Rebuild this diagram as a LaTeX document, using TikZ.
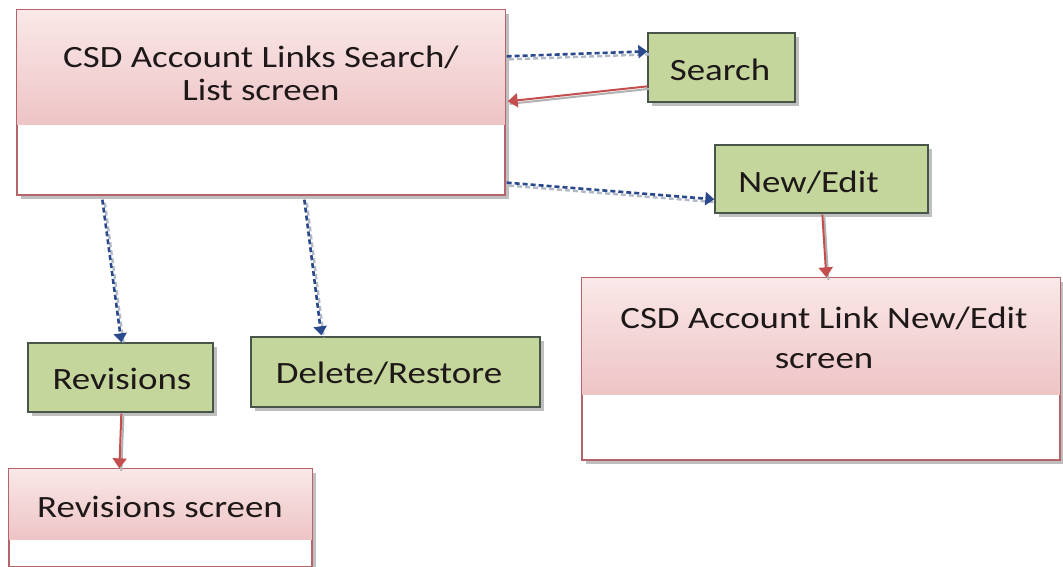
\documentclass[tikz,border=0pt]{standalone}
\usepackage{fontspec}
\setmainfont{Carlito}
\usetikzlibrary{arrows.meta,shadows,calc}
\definecolor{pinktop}{RGB}{250,232,232}
\definecolor{pinkbot}{RGB}{238,196,198}
\definecolor{scrline}{RGB}{180,100,106}
\definecolor{actfill}{RGB}{196,214,156}
\definecolor{actline}{RGB}{72,86,74}
\definecolor{navblue}{RGB}{42,72,140}
\definecolor{navshadow}{RGB}{178,186,200}
\definecolor{retred}{RGB}{196,78,78}
\definecolor{txt}{RGB}{30,24,24}
\newcommand{\wtext}[1]{\scalebox{1.19}[1]{#1}}
\begin{document}
\begin{tikzpicture}[x=1pt,y=-1pt,
  boxshadow/.style={drop shadow={shadow xshift=4pt,shadow yshift=-4pt,fill=black!45,opacity=0.55}},
  screenbox/.style={draw=scrline,line width=1.3pt,fill=white,inner sep=0pt,boxshadow},
  actbox/.style={draw=actline,line width=1.3pt,fill=actfill,inner sep=0pt,boxshadow},
  lbl/.style={inner sep=0pt,text=txt,font=\fontsize{31}{33}\selectfont},
  nav/.style={draw=navblue,line width=2.6pt,dash pattern=on 5pt off 3pt,
    -{Triangle[length=9pt,width=13pt]},
    preaction={draw=navshadow,line width=2.4pt,dash pattern=on 5pt off 3pt,-,
      transform canvas={xshift=2.5pt,yshift=-3pt}}},
  ret/.style={draw=retred,line width=2pt,-{Triangle[length=10pt,width=14pt]},
    preaction={draw=black!30,line width=2pt,-,
      transform canvas={xshift=2pt,yshift=-2.5pt}}}
]
\useasboundingbox (0,0) rectangle (1063,567);
\fill[white] (0,0) rectangle (1063,567);

% screen boxes
\node[screenbox,minimum width=488pt,minimum height=185pt] (main) at (261,102.5) {};
\shade[top color=pinktop,bottom color=pinkbot] (main.north west) rectangle ($(main.north east)+(0,115)$);
\draw[scrline,line width=1.3pt] (main.north west) rectangle (main.south east);
\node[lbl] (maint) at (261,77) {\wtext{\begin{tabular}{@{}c@{}}CSD Account Links Search/\\List screen\end{tabular}}};

\node[screenbox,minimum width=478pt,minimum height=182pt] (nes) at (821,369) {};
\shade[top color=pinktop,bottom color=pinkbot] (nes.north west) rectangle ($(nes.north east)+(0,117)$);
\draw[scrline,line width=1.3pt] (nes.north west) rectangle (nes.south east);
\node[lbl,font=\fontsize{31}{40}\selectfont] (nest) at (824,340) {\wtext{\begin{tabular}{@{}c@{}}CSD Account Link New/Edit\\screen\end{tabular}}};

\node[screenbox,minimum width=303pt,minimum height=98pt] (rs) at (160.5,518) {};
\shade[top color=pinktop,bottom color=pinkbot] (rs.north west) rectangle ($(rs.north east)+(0,71)$);
\draw[scrline,line width=1.3pt] (rs.north west) rectangle (rs.south east);
\node[lbl,anchor=base] (rst) at (160,517) {\wtext{Revisions screen}};

% action boxes
\node[actbox,minimum width=147pt,minimum height=69pt] (search) at (721.5,67.5) {};
\node[lbl,anchor=base] (searcht) at (720,81) {\wtext{Search}};

\node[actbox,minimum width=213pt,minimum height=68pt] (newedit) at (821.5,179) {};
\node[lbl,anchor=base] (neweditt) at (808.5,193) {\wtext{New/Edit}};

\node[actbox,minimum width=185pt,minimum height=69pt] (rev) at (120.5,377.5) {};
\node[lbl,anchor=base] (revt) at (122,389) {\wtext{Revisions}};

\node[actbox,minimum width=289pt,minimum height=70pt] (del) at (395.5,372) {};
\node[lbl,anchor=base] (delt) at (389,383) {\wtext{Delete/Restore}};

% connectors
\draw[nav] ($(main.north east)+(1,47)$) -- ($(search.north west)+(0,19)$);
\draw[ret] ($(search.north west)+(0,54)$) -- ($(main.north east)+(2,92)$);
\draw[nav] ($(main.south east)+(1,-13)$) -- ($(newedit.north west)+(0,55)$);
\draw[nav] ($(main.south west)+(86,4)$) -- ($(rev.north west)+(94,0)$);
\draw[nav] ($(main.south west)+(288,4)$) -- ($(del.north west)+(71,-1)$);
\draw[ret] ($(newedit.south west)+(108,1)$) -- ($(nes.north west)+(245,0)$);
\draw[ret] ($(rev.south west)+(94,1)$) -- ($(rs.north west)+(111,0)$);
\end{tikzpicture}
\end{document}
